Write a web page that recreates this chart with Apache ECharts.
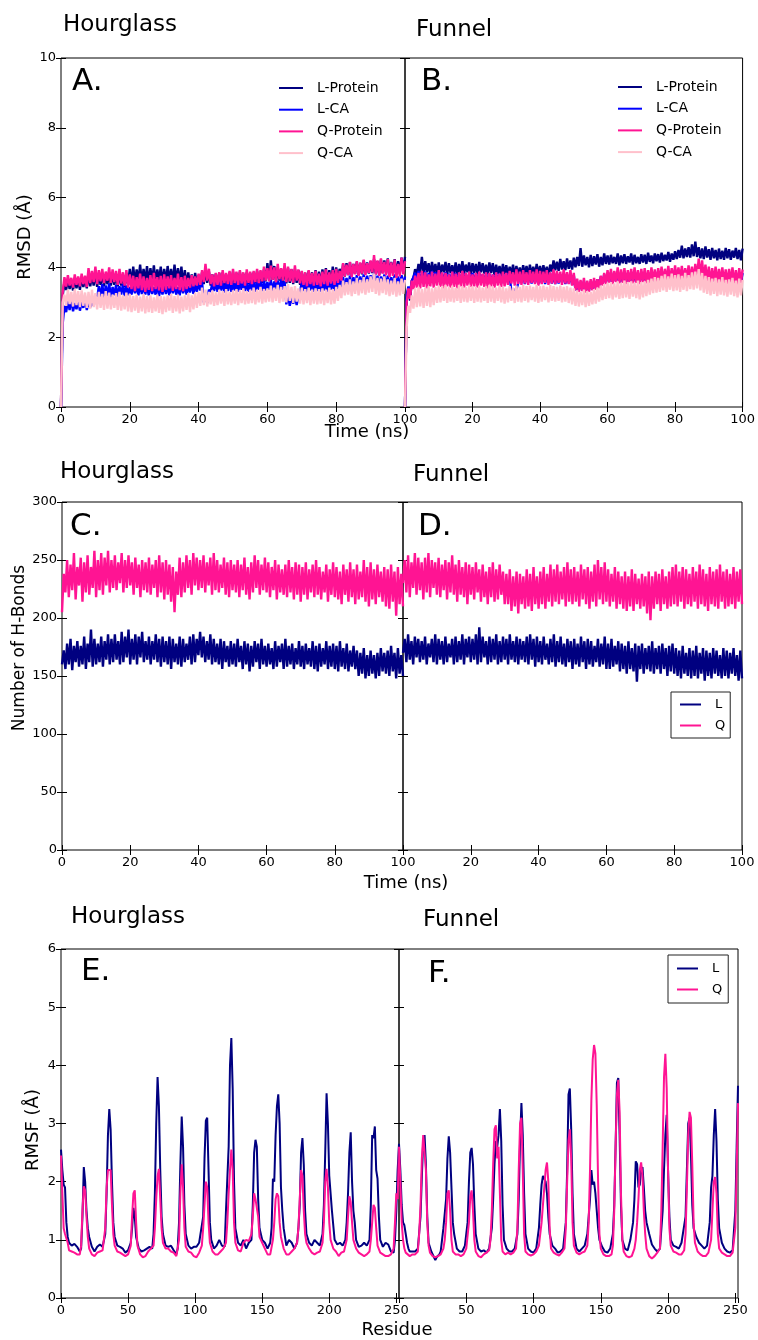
<!DOCTYPE html>
<html>
<head>
<meta charset="utf-8">
<script src="https://cdn.jsdelivr.net/npm/echarts@6/dist/echarts.min.js"></script>
<style>html,body{margin:0;padding:0;background:#fff}#c{width:758px;height:1340px}</style>
</head>
<body>
<div id="c"></div>
<script>
// ---------- time axis ticks ----------
const timeTicks = [0, 20, 40, 60, 80, 100];
const residueTicks = [0, 50, 100, 150, 200, 250];
const STEP = 0.5; // ns between samples

// ---------- Panel A (Hourglass RMSD, Å), samples every 0.5 ns ----------
const aLProtein = [0,
3.20,3.60,3.35,3.68,3.38,3.62,3.34,3.70,3.40,3.66,
3.36,3.72,3.44,3.70,3.40,3.82,3.46,3.78,3.48,3.86,
3.44,3.80,3.50,3.84,3.46,3.78,3.52,3.86,3.48,3.82,
3.50,3.80,3.46,3.86,3.48,3.78,3.44,3.84,3.50,3.96,
3.52,4.02,3.56,3.94,3.60,4.08,3.54,3.96,3.58,4.04,
3.55,3.98,3.60,4.06,3.56,3.94,3.62,4.02,3.54,3.96,
3.58,4.04,3.60,3.96,3.55,4.08,3.58,3.98,3.56,4.02,
3.50,3.92,3.46,3.86,3.48,3.80,3.44,3.84,3.48,3.78,
3.46,3.86,3.52,3.96,3.56,3.88,3.48,3.80,3.44,3.82,
3.46,3.84,3.44,3.86,3.50,3.80,3.48,3.86,3.46,3.88,
3.50,3.84,3.46,3.88,3.50,3.82,3.46,3.86,3.52,3.84,
3.48,3.86,3.54,3.90,3.52,3.88,3.56,3.94,3.60,4.12,
3.62,4.20,3.64,4.04,3.58,4.00,3.62,3.96,3.56,4.02,
3.54,3.98,3.56,3.94,3.52,3.96,3.56,3.92,3.50,3.88,
3.48,3.84,3.46,3.90,3.50,3.86,3.46,3.92,3.52,3.88,
3.50,3.94,3.54,3.98,3.52,3.92,3.56,4.02,3.58,4.00,
3.60,3.96,3.66,4.10,3.74,4.12,3.78,4.14,3.76,4.10,
3.82,4.16,3.78,4.12,3.80,4.20,3.84,4.14,3.82,4.18,
3.84,4.24,3.80,4.18,3.78,4.22,3.84,4.20,3.82,4.26,
3.80,4.16,3.84,4.24,3.78,4.18,3.86,4.28,3.90,4.30];
const aLCA = [0,
2.40,2.90,2.72,3.05,2.78,3.10,2.74,2.98,2.80,3.08,
2.76,3.02,2.84,3.12,2.78,3.06,2.86,3.14,2.90,3.20,
3.10,3.46,3.16,3.52,3.12,3.48,3.18,3.54,3.14,3.44,
3.20,3.50,3.16,3.46,3.22,3.52,3.18,3.48,3.20,3.44,
3.22,3.50,3.26,3.46,3.20,3.52,3.24,3.48,3.22,3.46,
3.20,3.48,3.24,3.44,3.22,3.50,3.18,3.46,3.22,3.48,
3.24,3.46,3.20,3.50,3.26,3.48,3.22,3.44,3.20,3.52,
3.26,3.48,3.22,3.46,3.28,3.54,3.24,3.50,3.30,3.56,
3.34,3.58,3.00,3.20,2.98,3.36,3.30,3.56,3.32,3.58,
3.30,3.60,3.34,3.56,3.28,3.58,3.32,3.62,3.30,3.56,
3.34,3.60,3.30,3.58,3.36,3.62,3.32,3.56,3.30,3.60,
3.34,3.62,3.30,3.58,3.36,3.60,3.32,3.62,3.34,3.58,
3.36,3.64,3.32,3.60,3.38,3.62,3.34,3.66,3.36,3.60,
2.94,3.22,2.90,3.16,2.96,3.20,2.92,3.18,3.30,3.58,
3.32,3.60,3.28,3.56,3.34,3.62,3.30,3.58,3.32,3.56,
3.30,3.60,3.34,3.62,3.30,3.58,3.36,3.60,3.32,3.62,
3.38,3.66,3.42,3.72,3.40,3.70,3.44,3.76,3.40,3.72,
3.46,3.78,3.42,3.74,3.48,3.80,3.44,3.76,3.46,3.78,
3.48,3.82,3.44,3.76,3.40,3.74,3.46,3.80,3.44,3.76,
3.42,3.72,3.46,3.80,3.40,3.74,3.44,3.78,3.46,3.74];
const aQProtein = [0,
3.30,3.72,3.45,3.78,3.48,3.70,3.42,3.80,3.50,3.74,
3.46,3.82,3.52,3.76,3.44,3.98,3.55,3.90,3.58,4.02,
3.52,3.92,3.60,3.96,3.55,3.88,3.62,4.00,3.56,3.94,
3.58,3.90,3.50,3.96,3.54,3.86,3.48,3.92,3.42,3.80,
3.38,3.76,3.32,3.72,3.40,3.82,3.35,3.74,3.30,3.70,
3.36,3.78,3.32,3.84,3.38,3.72,3.34,3.76,3.30,3.80,
3.36,3.74,3.40,3.78,3.33,3.70,3.38,3.82,3.35,3.72,
3.32,3.76,3.38,3.70,3.42,3.78,3.46,3.74,3.48,3.82,
3.50,3.92,3.58,4.10,3.62,3.96,3.52,3.80,3.46,3.84,
3.50,3.86,3.48,3.92,3.55,3.84,3.52,3.90,3.50,3.96,
3.55,3.88,3.50,3.92,3.54,3.86,3.48,3.94,3.56,3.88,
3.52,3.90,3.58,3.96,3.55,3.92,3.60,4.02,3.62,3.98,
3.60,4.05,3.64,4.00,3.58,4.10,3.66,3.98,3.62,4.12,
3.58,4.02,3.60,3.96,3.56,4.06,3.62,3.94,3.54,3.90,
3.50,3.86,3.46,3.92,3.52,3.84,3.48,3.90,3.50,3.82,
3.46,3.88,3.52,3.94,3.48,3.86,3.54,3.92,3.50,3.96,
3.56,3.90,3.62,4.12,3.74,4.08,3.78,4.16,3.72,4.10,
3.80,4.18,3.76,4.14,3.82,4.22,3.78,4.12,3.84,4.20,
3.86,4.35,3.80,4.20,3.76,4.26,3.82,4.16,3.78,4.24,
3.72,4.14,3.76,4.22,3.70,4.10,3.74,4.28,3.80,4.18];
const aQCA = [0,
3.00,3.22,2.90,3.36,2.95,3.30,2.88,3.38,2.92,3.32,
2.86,3.34,2.90,3.28,2.84,3.30,2.82,3.36,2.86,3.26,
2.80,3.30,2.84,3.24,2.78,3.32,2.82,3.28,2.80,3.22,
2.84,3.26,2.78,3.30,2.76,3.20,2.80,3.28,2.74,3.24,
2.72,3.18,2.76,3.22,2.70,3.16,2.74,3.24,2.68,3.18,
2.72,3.20,2.70,3.14,2.74,3.22,2.70,3.18,2.66,3.16,
2.72,3.20,2.76,3.24,2.70,3.18,2.74,3.22,2.68,3.16,
2.74,3.20,2.78,3.26,2.72,3.20,2.80,3.28,2.84,3.30,
2.90,3.42,2.92,3.36,2.88,3.30,2.94,3.34,2.90,3.28,
2.92,3.36,2.96,3.32,2.90,3.38,2.94,3.30,2.92,3.34,
2.96,3.38,2.92,3.34,2.98,3.40,2.94,3.32,2.96,3.36,
2.98,3.42,2.94,3.36,3.00,3.44,2.96,3.38,3.00,3.40,
3.02,3.48,3.00,3.42,3.04,3.50,2.98,3.44,3.02,3.46,
3.00,3.52,3.04,3.44,2.98,3.46,3.02,3.40,2.96,3.42,
2.94,3.38,2.98,3.42,2.92,3.36,2.96,3.40,2.94,3.38,
2.96,3.40,2.92,3.36,2.98,3.42,2.94,3.38,2.96,3.44,
3.04,3.50,3.12,3.62,3.20,3.58,3.22,3.66,3.18,3.60,
3.24,3.70,3.20,3.64,3.26,3.72,3.22,3.66,3.28,3.74,
3.30,3.82,3.24,3.70,3.20,3.68,3.26,3.74,3.22,3.66,
3.18,3.62,3.22,3.70,3.16,3.60,3.20,3.68,3.24,3.64];

// ---------- Panel B (Funnel RMSD, Å) ----------
const bLProtein = [0,
3.10,3.40,3.05,3.62,3.70,3.95,3.78,4.10,3.85,4.30,
3.82,4.18,3.86,4.12,3.80,4.16,3.84,4.10,3.78,4.14,
3.82,4.08,3.86,4.16,3.80,4.12,3.84,4.06,3.80,4.14,
3.78,4.10,3.84,4.18,3.82,4.08,3.86,4.14,3.80,4.12,
3.84,4.10,3.80,4.16,3.86,4.12,3.82,4.08,3.80,4.14,
3.84,4.12,3.78,4.08,3.82,4.04,3.76,4.10,3.80,4.06,
3.76,4.02,3.80,4.08,3.74,4.04,3.78,4.00,3.76,4.06,
3.80,4.04,3.74,4.08,3.78,4.02,3.76,4.10,3.80,4.04,
3.76,4.06,3.80,4.02,3.74,4.08,3.88,4.20,3.92,4.16,
3.90,4.24,3.94,4.18,3.92,4.26,3.96,4.20,3.94,4.28,
4.00,4.30,4.04,4.55,4.02,4.34,4.06,4.30,4.00,4.36,
4.04,4.32,4.08,4.38,4.02,4.30,4.06,4.40,4.10,4.34,
4.08,4.36,4.12,4.30,4.10,4.40,4.06,4.34,4.12,4.38,
4.10,4.32,4.14,4.40,4.08,4.36,4.12,4.30,4.10,4.38,
4.14,4.36,4.10,4.42,4.16,4.34,4.12,4.40,4.18,4.38,
4.14,4.42,4.18,4.36,4.20,4.44,4.16,4.40,4.22,4.46,
4.24,4.50,4.28,4.62,4.26,4.54,4.30,4.58,4.28,4.66,
4.32,4.74,4.30,4.58,4.26,4.54,4.24,4.60,4.28,4.52,
4.22,4.56,4.26,4.50,4.20,4.54,4.24,4.48,4.22,4.56,
4.26,4.52,4.22,4.48,4.28,4.56,4.24,4.50,4.20,4.54];
const bLCA = [0,
3.20,3.45,3.30,3.60,3.55,3.85,3.60,3.90,3.58,3.86,
3.62,3.88,3.56,3.84,3.60,3.90,3.58,3.86,3.62,3.88,
3.58,3.84,3.60,3.86,3.56,3.82,3.60,3.88,3.58,3.84,
3.56,3.82,3.60,3.86,3.58,3.84,3.56,3.80,3.60,3.84,
3.58,3.82,3.54,3.86,3.58,3.80,3.56,3.84,3.54,3.82,
3.56,3.80,3.54,3.84,3.58,3.82,3.54,3.80,3.56,3.84,
3.58,3.82,3.26,3.40,3.24,3.36,3.54,3.80,3.56,3.82,
3.52,3.80,3.56,3.84,3.54,3.78,3.56,3.82,3.52,3.80,
3.56,3.82,3.52,3.78,3.56,3.84,3.54,3.80,3.52,3.82,
3.54,3.80,3.56,3.84,3.52,3.78,3.54,3.82,3.50,3.78,
3.34,3.60,3.32,3.58,3.36,3.62,3.30,3.56,3.34,3.60,
3.36,3.62,3.40,3.66,3.46,3.74,3.52,3.80,3.56,3.84,
3.58,3.86,3.56,3.84,3.60,3.88,3.56,3.82,3.58,3.86,
3.56,3.84,3.60,3.88,3.58,3.86,3.56,3.82,3.58,3.88,
3.60,3.86,3.58,3.84,3.62,3.88,3.60,3.86,3.62,3.90,
3.64,3.90,3.60,3.88,3.64,3.92,3.62,3.90,3.64,3.94,
3.62,3.90,3.66,3.94,3.64,3.92,3.66,3.96,3.64,3.94,
3.68,3.98,3.70,4.02,3.66,3.96,3.62,3.90,3.60,3.88,
3.58,3.86,3.60,3.90,3.56,3.84,3.58,3.88,3.56,3.86,
3.54,3.84,3.58,3.88,3.56,3.82,3.54,3.86,3.56,3.84];
const bQProtein = [0,
3.00,3.40,3.10,3.62,3.38,3.76,3.42,3.84,3.40,3.90,
3.44,3.86,3.40,3.80,3.46,3.88,3.42,3.82,3.48,3.92,
3.44,3.86,3.40,3.84,3.46,3.80,3.42,3.88,3.44,3.82,
3.40,3.86,3.46,3.90,3.42,3.84,3.48,3.88,3.44,3.80,
3.46,3.84,3.42,3.88,3.48,3.82,3.44,3.86,3.40,3.84,
3.46,3.80,3.42,3.86,3.48,3.82,3.44,3.88,3.46,3.84,
3.50,3.90,3.54,3.86,3.48,3.94,3.52,3.88,3.50,3.92,
3.54,3.86,3.50,3.92,3.56,3.88,3.52,3.94,3.48,3.90,
3.52,3.88,3.56,3.92,3.50,3.86,3.54,3.94,3.52,3.90,
3.56,3.88,3.50,3.94,3.54,3.86,3.52,3.92,3.48,3.84,
3.34,3.68,3.30,3.64,3.32,3.70,3.28,3.62,3.30,3.66,
3.34,3.70,3.36,3.66,3.40,3.76,3.48,3.84,3.52,3.92,
3.56,3.96,3.52,3.90,3.58,4.00,3.54,3.94,3.56,3.98,
3.52,3.92,3.58,3.96,3.54,4.00,3.56,3.92,3.52,3.96,
3.58,3.98,3.54,3.92,3.56,4.00,3.60,3.94,3.56,3.98,
3.62,4.02,3.58,3.96,3.64,4.04,3.60,3.98,3.62,4.06,
3.60,4.00,3.64,4.04,3.62,3.98,3.66,4.06,3.62,4.02,
3.64,4.10,3.70,4.25,3.72,4.20,3.66,4.08,3.60,4.02,
3.56,3.98,3.60,4.02,3.54,3.96,3.58,4.00,3.56,3.94,
3.52,3.96,3.58,4.00,3.54,3.92,3.50,3.98,3.56,3.94];
const bQCA = [0,
2.30,2.90,2.70,3.20,2.82,3.40,2.86,3.44,2.88,3.38,
2.84,3.42,2.90,3.46,2.86,3.40,2.92,3.44,2.98,3.48,
3.00,3.46,3.04,3.50,2.98,3.44,3.02,3.48,3.00,3.42,
3.04,3.50,2.98,3.46,3.02,3.44,3.00,3.50,3.04,3.46,
2.98,3.44,3.02,3.48,3.00,3.42,3.04,3.46,2.98,3.50,
3.02,3.46,2.98,3.42,3.04,3.48,3.00,3.44,2.96,3.40,
3.00,3.46,3.04,3.42,2.98,3.48,3.02,3.44,3.00,3.50,
3.04,3.46,3.00,3.48,3.06,3.44,3.02,3.50,2.98,3.46,
3.02,3.48,3.06,3.44,3.00,3.50,3.04,3.46,3.02,3.44,
3.04,3.48,3.00,3.44,3.02,3.46,2.98,3.42,2.94,3.40,
2.90,3.34,2.88,3.30,2.92,3.36,2.86,3.32,2.90,3.30,
2.94,3.38,2.96,3.42,3.02,3.48,3.06,3.52,3.10,3.56,
3.12,3.58,3.08,3.54,3.14,3.60,3.10,3.56,3.12,3.62,
3.14,3.58,3.10,3.60,3.16,3.56,3.12,3.62,3.08,3.58,
3.14,3.60,3.18,3.64,3.22,3.68,3.26,3.72,3.28,3.70,
3.30,3.76,3.34,3.80,3.30,3.74,3.36,3.82,3.32,3.78,
3.34,3.80,3.30,3.76,3.36,3.84,3.32,3.78,3.38,3.86,
3.36,3.88,3.40,3.95,3.34,3.84,3.28,3.76,3.24,3.72,
3.20,3.68,3.24,3.70,3.18,3.66,3.22,3.72,3.20,3.64,
3.16,3.66,3.22,3.70,3.18,3.62,3.14,3.68,3.20,3.64];

// ---------- Panel C (Hourglass H-bonds) ----------
const cL = [160,
172,156,178,160,182,155,176,162,180,158,
176,160,184,156,178,162,190,158,182,160,
178,162,184,158,180,164,186,160,182,162,
186,164,180,160,188,162,184,166,190,160,
182,164,186,160,184,166,188,162,180,164,
184,160,180,164,186,162,182,158,184,162,
180,160,184,156,182,162,178,160,184,158,
182,162,178,164,184,160,186,162,182,168,
188,166,184,162,180,164,186,160,182,162,
178,160,182,156,180,162,176,158,180,160,
178,158,182,162,176,156,180,160,178,154,
176,158,180,162,178,156,182,160,176,158,
178,160,174,156,180,158,176,162,178,156,
182,158,176,160,178,156,174,160,180,158,
176,156,178,160,174,158,180,156,176,154,
178,158,174,160,180,156,176,158,178,156,
176,154,180,158,174,156,178,154,172,158,
176,156,172,150,170,152,174,148,168,150,
172,152,168,148,170,150,174,154,170,152,
172,150,176,154,170,148,174,152,168,150];
const cQ = [205,
238,222,250,218,246,224,256,216,244,228,
252,214,248,222,254,220,244,226,258,218,
250,224,256,220,252,228,258,222,250,226,
254,224,248,230,256,222,250,226,254,228,
248,220,252,226,246,218,250,224,248,222,
252,220,246,226,250,218,254,222,248,216,
250,220,246,214,244,205,240,220,252,218,
248,222,254,226,250,220,256,228,252,224,
250,226,254,222,248,228,252,220,256,224,
250,222,246,226,252,220,248,218,250,224,
246,222,250,218,246,224,252,220,244,216,
248,222,254,226,250,220,246,224,252,222,
248,218,244,224,250,216,246,222,242,220,
246,218,250,222,244,216,248,220,246,214,
244,220,248,216,242,222,246,218,250,220,
244,216,240,222,246,214,242,220,248,218,
244,216,240,212,246,220,242,214,248,218,
242,212,246,216,240,218,250,214,244,210,
248,216,242,212,246,218,240,214,244,210,
242,208,246,214,240,202,244,212,238,210];

// ---------- Panel D (Funnel H-bonds) ----------
const dL = [170,
182,162,186,164,180,160,184,166,182,162,
180,164,184,160,178,166,182,162,186,160,
182,164,180,160,184,162,178,166,182,160,
184,162,180,164,186,160,182,166,184,162,
182,164,186,160,192,162,184,166,180,160,
184,162,182,164,186,160,180,162,184,164,
182,160,186,164,180,162,184,160,182,164,
180,162,184,160,186,164,182,158,184,162,
180,160,184,164,178,160,182,162,186,158,
180,162,184,160,178,158,182,162,180,156,
182,160,178,158,184,162,180,156,182,160,
180,158,176,162,182,158,178,160,184,156,
178,156,182,158,176,160,180,154,178,156,
176,152,180,156,174,154,178,145,176,156,
178,152,174,156,176,154,180,152,174,156,
176,152,178,156,174,150,176,154,178,152,
174,150,172,148,176,152,170,150,174,148,
172,150,176,148,170,152,174,146,172,150,
170,148,174,152,172,150,168,148,174,150,
172,148,170,152,174,150,168,146,172,148];
const dQ = [230,
250,222,254,218,248,226,256,220,252,224,
248,216,252,222,256,218,250,226,248,220,
252,218,246,224,250,216,248,222,254,220,
246,214,250,220,244,218,248,212,246,220,
244,216,248,222,242,214,246,218,240,212,
244,218,248,214,242,216,246,220,240,212,
238,212,242,206,236,210,240,204,238,212,
236,208,242,210,238,206,244,212,236,208,
240,212,244,208,238,214,246,210,242,214,
246,212,240,216,244,210,248,214,242,212,
244,214,240,210,246,216,242,212,244,208,
240,214,246,210,250,216,244,212,248,214,
242,210,238,214,244,208,240,212,236,208,
240,206,236,210,242,206,238,212,234,208,
238,210,236,204,240,198,236,208,240,212,
238,206,242,212,236,208,240,210,244,212,
246,210,240,214,244,208,242,212,238,210,
244,214,240,208,246,212,242,210,238,206,
244,212,240,210,242,208,246,214,240,208,
242,210,238,212,244,208,240,214,242,212];

// ---------- Panel E (Hourglass RMSF, [residue, Å]) ----------
const eL = [[0,2.55],[1,2.2],[2,1.95],[3,1.9],[4,1.3],[5,1.05],[6,0.95],[8,0.9],[10,0.93],[12,0.88],[14,0.8],[15,0.85],[16,1.4],[17,2.25],[18,2.0],[19,1.5],[20,1.2],[21,1.05],[23,0.88],[25,0.8],[27,0.88],[29,0.92],[31,0.88],[33,1.1],[34,1.8],[35,2.8],[36,3.25],[37,2.9],[38,2.0],[39,1.3],[40,1.05],[42,0.9],[44,0.88],[45,0.9],[46,0.85],[48,0.78],[50,0.82],[52,0.95],[53,1.2],[54,1.55],[55,1.4],[56,1.05],[58,0.85],[60,0.8],[62,0.82],[64,0.85],[66,0.88],[68,0.85],[69,1.1],[70,1.8],[71,3.0],[72,3.8],[73,3.3],[74,2.2],[75,1.4],[76,1.1],[78,0.9],[80,0.88],[82,0.9],[84,0.82],[86,0.75],[87,0.85],[88,1.3],[89,2.3],[90,3.12],[91,2.6],[92,1.6],[93,1.1],[95,0.9],[97,0.85],[99,0.88],[101,0.88],[103,0.95],[104,1.1],[105,1.25],[106,1.4],[107,2.4],[108,3.05],[109,3.1],[110,2.2],[111,1.3],[112,1.0],[114,0.85],[116,0.9],[118,1.0],[120,0.9],[122,0.88],[123,1.5],[124,1.5],[125,2.6],[126,4.0],[127,4.47],[128,3.6],[129,2.0],[130,1.2],[132,0.95],[134,0.9],[136,1.0],[138,0.85],[140,0.95],[142,1.0],[143,1.6],[144,2.5],[145,2.72],[146,2.6],[147,1.7],[148,1.2],[150,1.0],[152,0.95],[154,0.85],[156,0.95],[157,1.2],[158,2.05],[159,2.0],[160,2.8],[161,3.3],[162,3.5],[163,3.0],[164,1.9],[165,1.5],[166,1.2],[168,0.9],[170,1.0],[172,0.95],[174,0.85],[176,0.95],[177,1.2],[178,1.6],[179,2.5],[180,2.75],[181,2.3],[182,1.5],[183,1.1],[185,0.95],[187,0.9],[189,1.0],[191,0.95],[193,0.9],[195,1.1],[196,1.6],[197,2.5],[198,3.52],[199,3.0],[200,2.1],[201,2.1],[202,1.5],[204,1.0],[206,0.92],[208,0.95],[210,0.9],[212,1.0],[213,1.3],[214,1.8],[215,2.5],[216,2.85],[217,2.0],[218,1.5],[219,1.3],[220,1.0],[222,0.88],[224,0.9],[226,0.95],[228,0.9],[230,1.0],[231,1.6],[232,2.8],[233,2.75],[234,2.95],[235,2.2],[236,2.05],[237,1.4],[238,1.0],[240,0.88],[242,0.95],[244,0.92],[246,0.8],[248,0.78],[249,1.0],[250,1.5],[251,2.2],[252,2.65]];
const eQ = [[0,2.45],[1,1.8],[2,1.2],[3,1.1],[4,1.12],[5,0.95],[6,0.82],[8,0.8],[10,0.78],[12,0.75],[14,0.75],[15,0.9],[16,1.5],[17,1.92],[18,1.85],[19,1.4],[20,1.05],[21,0.85],[23,0.75],[25,0.72],[27,0.78],[29,0.8],[31,0.82],[33,1.2],[34,1.9],[35,2.2],[36,2.22],[37,2.2],[38,1.6],[39,1.1],[40,0.9],[42,0.8],[44,0.78],[46,0.75],[48,0.72],[50,0.75],[52,0.9],[53,1.4],[54,1.8],[55,1.85],[56,1.3],[57,0.9],[59,0.75],[61,0.7],[63,0.72],[65,0.8],[67,0.85],[69,0.9],[70,1.2],[71,1.7],[72,2.1],[73,2.22],[74,1.7],[75,1.2],[76,0.95],[78,0.85],[80,0.85],[82,0.8],[84,0.78],[86,0.72],[87,0.75],[88,1.0],[89,1.8],[90,2.3],[91,1.9],[92,1.2],[93,0.88],[95,0.8],[97,0.78],[99,0.72],[101,0.7],[103,0.78],[105,0.9],[106,1.2],[107,1.6],[108,2.0],[109,1.9],[110,1.3],[111,0.95],[113,0.8],[115,0.75],[117,0.75],[119,0.8],[121,0.85],[123,0.95],[124,1.3],[125,1.8],[126,2.2],[127,2.55],[128,2.2],[129,1.3],[130,0.95],[132,0.82],[134,0.8],[136,0.95],[138,1.0],[140,0.98],[142,1.1],[143,1.4],[144,1.8],[145,1.7],[146,1.72],[147,1.4],[148,1.05],[150,0.95],[152,0.85],[154,0.75],[156,0.75],[158,1.0],[159,1.3],[160,1.7],[161,1.8],[162,1.75],[163,1.3],[164,1.05],[166,0.85],[168,0.75],[170,0.75],[172,0.8],[174,0.85],[176,0.95],[177,1.2],[178,1.7],[179,2.2],[180,2.1],[181,1.5],[182,1.1],[183,0.95],[185,0.85],[187,0.78],[189,0.75],[191,0.78],[193,0.8],[195,0.95],[196,1.3],[197,2.0],[198,2.22],[199,1.9],[200,1.3],[201,1.0],[203,0.85],[205,0.8],[207,0.72],[209,0.78],[211,0.8],[213,1.0],[214,1.4],[215,1.75],[216,1.65],[217,1.3],[218,1.0],[220,0.85],[222,0.78],[224,0.75],[226,0.72],[228,0.75],[230,0.8],[231,1.0],[232,1.3],[233,1.6],[234,1.55],[235,1.2],[236,0.9],[238,0.78],[240,0.75],[242,0.72],[244,0.72],[246,0.75],[248,0.85],[249,1.3],[250,1.8],[251,1.7],[252,2.6]];

// ---------- Panel F (Funnel RMSF, [residue, Å]) ----------
const fL = [[0,2.65],[1,2.2],[2,1.6],[3,1.3],[4,1.25],[5,1.1],[6,0.95],[7,0.85],[8,0.8],[10,0.8],[12,0.8],[14,0.85],[16,1.4],[17,2.1],[18,2.7],[19,2.8],[20,2.3],[21,1.4],[22,0.95],[24,0.8],[26,0.7],[27,0.65],[28,0.7],[30,0.75],[31,0.8],[33,1.2],[34,1.45],[35,1.7],[36,2.4],[37,2.78],[38,2.5],[39,1.9],[40,1.3],[41,1.1],[43,0.85],[45,0.8],[47,0.8],[49,0.9],[51,1.3],[52,2.0],[53,2.5],[54,2.58],[55,2.3],[56,1.6],[57,1.1],[59,0.85],[61,0.8],[63,0.82],[65,0.78],[67,0.85],[69,1.2],[70,1.7],[71,2.3],[72,2.7],[73,2.6],[74,2.8],[75,3.25],[76,2.7],[77,1.6],[78,1.0],[80,0.85],[82,0.8],[84,0.8],[86,0.85],[88,1.1],[89,1.7],[90,2.7],[91,3.35],[92,2.8],[93,1.8],[94,1.1],[96,0.85],[98,0.8],[100,0.78],[102,0.85],[104,1.2],[105,1.6],[106,1.95],[107,2.1],[108,2.05],[109,2.0],[110,1.8],[111,1.4],[112,1.1],[114,0.9],[116,0.85],[118,0.78],[120,0.8],[122,0.85],[124,1.3],[125,2.2],[126,3.5],[127,3.6],[128,2.9],[129,1.8],[130,1.1],[132,0.85],[134,0.8],[136,0.85],[138,0.9],[140,1.1],[141,1.4],[142,1.7],[143,2.2],[144,1.95],[145,2.0],[146,1.8],[147,1.5],[148,1.2],[149,1.0],[151,0.88],[153,0.8],[155,0.78],[157,0.85],[159,1.1],[160,1.6],[161,2.6],[162,3.7],[163,3.78],[164,2.8],[165,1.6],[166,1.0],[168,0.85],[170,0.82],[172,1.0],[174,1.3],[175,1.7],[176,2.35],[177,2.3],[178,1.9],[179,1.95],[180,2.2],[181,2.25],[182,1.9],[183,1.5],[184,1.3],[185,1.3],[186,1.1],[188,0.92],[190,0.85],[192,0.8],[194,0.85],[196,1.5],[197,2.2],[198,2.8],[199,3.15],[200,2.2],[201,1.4],[202,1.0],[204,0.9],[206,0.88],[208,0.85],[210,0.95],[212,1.25],[213,1.4],[214,2.2],[215,3.0],[216,3.1],[217,2.5],[218,1.6],[219,1.2],[221,1.05],[223,0.95],[225,0.9],[227,0.85],[229,0.9],[231,1.3],[232,1.9],[233,2.1],[234,2.8],[235,3.25],[236,2.7],[237,1.7],[238,1.2],[240,0.95],[242,0.85],[244,0.8],[246,0.78],[248,0.82],[250,1.5],[251,2.6],[252,3.65]];
const fQ = [[0,2.6],[1,2.0],[2,1.3],[3,1.0],[4,0.85],[5,0.78],[6,0.75],[8,0.72],[10,0.75],[12,0.75],[14,0.8],[15,1.1],[16,1.6],[17,2.4],[18,2.8],[19,2.83],[20,2.2],[21,1.3],[22,0.9],[23,0.78],[25,0.72],[27,0.7],[29,0.72],[31,0.75],[33,0.85],[34,1.0],[35,1.3],[36,1.8],[37,1.85],[38,1.5],[39,1.0],[40,0.8],[42,0.75],[44,0.75],[46,0.72],[48,0.75],[50,0.85],[52,1.3],[53,1.75],[54,1.85],[55,1.5],[56,1.0],[57,0.8],[59,0.72],[61,0.7],[63,0.75],[65,0.78],[67,0.82],[68,1.0],[69,1.5],[70,2.3],[71,2.9],[72,2.97],[73,2.4],[74,2.6],[75,1.8],[76,1.0],[77,0.8],[79,0.75],[81,0.78],[83,0.75],[85,0.78],[87,0.85],[88,1.2],[89,2.2],[90,3.0],[91,3.1],[92,2.2],[93,1.1],[94,0.8],[96,0.75],[98,0.73],[100,0.75],[102,0.8],[104,0.9],[106,1.3],[107,1.6],[108,1.9],[109,2.2],[110,2.33],[111,2.0],[112,1.2],[113,0.85],[115,0.78],[117,0.75],[119,0.73],[121,0.78],[123,0.85],[124,1.2],[125,2.0],[126,2.7],[127,2.9],[128,2.4],[129,1.3],[130,0.9],[132,0.78],[134,0.75],[136,0.78],[138,0.8],[140,0.9],[141,1.3],[142,2.2],[143,3.4],[144,4.1],[145,4.35],[146,4.2],[147,3.3],[148,2.0],[149,1.1],[150,0.85],[152,0.75],[154,0.72],[156,0.72],[158,0.75],[159,0.9],[160,1.5],[161,2.6],[162,3.5],[163,3.75],[164,3.2],[165,1.8],[166,1.0],[167,0.8],[169,0.72],[171,0.7],[173,0.72],[175,0.85],[176,1.0],[177,1.3],[178,1.7],[179,2.2],[180,2.33],[181,2.1],[182,1.5],[183,1.1],[184,0.85],[186,0.72],[188,0.68],[190,0.72],[192,0.78],[194,0.85],[195,1.5],[196,2.6],[197,3.8],[198,4.2],[199,3.6],[200,2.2],[201,1.2],[202,0.9],[204,0.8],[206,0.78],[208,0.75],[210,0.75],[212,0.82],[213,1.1],[214,1.9],[215,2.8],[216,3.2],[217,3.1],[218,2.3],[219,1.3],[220,0.95],[222,0.8],[224,0.75],[226,0.72],[228,0.72],[230,0.78],[232,1.0],[233,1.5],[234,2.0],[235,2.08],[236,1.8],[237,1.1],[238,0.85],[240,0.78],[242,0.75],[244,0.72],[246,0.72],[248,0.78],[250,1.2],[251,2.2],[252,3.35]];

// ---------- colours ----------
const NAVY = '#000080', BLUE = '#0000ff', PINK = '#ff1493', LPINK = '#ffc0cb';
const FONT = '"DejaVu Sans", sans-serif';

const grids = [
  {left: 61, top: 58, width: 344, height: 349},   // A
  {left: 405, top: 58, width: 338, height: 349},  // B
  {left: 62, top: 502, width: 341, height: 348},  // C
  {left: 403, top: 502, width: 339, height: 348}, // D
  {left: 61, top: 949, width: 338, height: 349},  // E
  {left: 399, top: 949, width: 339, height: 349}  // F
].map(g => Object.assign({show: true, borderColor: '#000', borderWidth: 1, backgroundColor: 'transparent'}, g));

const axisSpec = [
  {x: [0, 100, 20], y: [0, 10, 2], yLab: true, hideMinX: false},
  {x: [0, 100, 20], y: [0, 10, 2], yLab: false, hideMinX: true},
  {x: [0, 100, 20], y: [0, 300, 50], yLab: true, hideMinX: false},
  {x: [0, 100, 20], y: [0, 300, 50], yLab: false, hideMinX: true},
  {x: [0, 252, 50], y: [0, 6, 1], yLab: true, hideMinX: false},
  {x: [0, 252, 50], y: [0, 6, 1], yLab: false, hideMinX: true}
];

const tick = {show: true, inside: true, length: 5, lineStyle: {color: '#000', width: 1}};
const xAxes = [], yAxes = [];
axisSpec.forEach((s, g) => {
  const base = {type: 'value', gridIndex: g, min: s.x[0], max: s.x[1], interval: s.x[2],
    axisLine: {show: false}, splitLine: {show: false}, axisTick: tick};
  xAxes.push(Object.assign({}, base, {position: 'bottom',
    axisLabel: {show: true, color: '#000', fontSize: 13, fontFamily: FONT, margin: 6,
      showMinLabel: !s.hideMinX, showMaxLabel: s.x[1] === 100,
      formatter: v => String(v)}}));
  xAxes.push(Object.assign({}, base, {position: 'top', axisLabel: {show: false}}));
  const ybase = {type: 'value', gridIndex: g, min: s.y[0], max: s.y[1], interval: s.y[2],
    axisLine: {show: false}, splitLine: {show: false}, axisTick: tick};
  yAxes.push(Object.assign({}, ybase, {position: 'left',
    axisLabel: {show: s.yLab, color: '#000', fontSize: 13, fontFamily: FONT, margin: 5}}));
  yAxes.push(Object.assign({}, ybase, {position: 'right', axisLabel: {show: false}}));
});

function timePairs(arr) { return arr.map((v, i) => [i * STEP, v]); }
function mk(name, data, color, g, width) {
  return {type: 'line', name: name, data: data, xAxisIndex: 2 * g, yAxisIndex: 2 * g,
    showSymbol: false, symbol: 'none', color: color, animation: false, sampling: null,
    lineStyle: {color: color, width: width, join: 'bevel'}, z: 2};
}

const NW = 2.4; // noisy trace width (dense trajectories look like filled bands)
const series = [
  mk('L-Protein', timePairs(aLProtein), NAVY, 0, NW),
  mk('L-CA', timePairs(aLCA), BLUE, 0, NW),
  mk('Q-Protein', timePairs(aQProtein), PINK, 0, NW),
  mk('Q-CA', timePairs(aQCA), LPINK, 0, NW),
  mk('L-Protein', timePairs(bLProtein), NAVY, 1, NW),
  mk('L-CA', timePairs(bLCA), BLUE, 1, NW),
  mk('Q-Protein', timePairs(bQProtein), PINK, 1, NW),
  mk('Q-CA', timePairs(bQCA), LPINK, 1, NW),
  mk('L', timePairs(cL), NAVY, 2, NW),
  mk('Q', timePairs(cQ), PINK, 2, NW),
  mk('L', timePairs(dL), NAVY, 3, NW),
  mk('Q', timePairs(dQ), PINK, 3, NW),
  mk('L', eL, NAVY, 4, 2),
  mk('Q', eQ, PINK, 4, 2),
  mk('L', fL, NAVY, 5, 2),
  mk('Q', fQ, PINK, 5, 2)
];

const legA = {names: ['L-Protein', 'L-CA', 'Q-Protein', 'Q-CA']};
const legendBase = {orient: 'vertical', selectedMode: false, itemWidth: 24, itemHeight: 14,
  itemGap: 7.7, padding: 0, icon: 'path://M0,6 L24,6 L24,8 L0,8 Z',
  textStyle: {fontSize: 14, fontFamily: FONT, color: '#000', padding: [0, 0, 0, 9]}};
const boxLegend = {orient: 'vertical', selectedMode: false, itemWidth: 21, itemHeight: 12,
  itemGap: 8, borderColor: '#222', borderWidth: 1, backgroundColor: '#fff',
  icon: 'path://M0,5 L21,5 L21,7 L0,7 Z',
  textStyle: {fontSize: 13, fontFamily: FONT, color: '#000', padding: [0, 0, 0, 9]}};
const legends = [
  Object.assign({}, legendBase, {data: legA.names, left: 279, top: 81}),
  Object.assign({}, legendBase, {data: legA.names, left: 618, top: 80}),
  Object.assign({}, boxLegend, {data: ['L', 'Q'], left: 671, top: 692, padding: [6, 5, 6, 9]}),
  Object.assign({}, boxLegend, {data: ['L', 'Q'], left: 668, top: 955, padding: [7, 6, 7, 9]})
];

function txt(t, x, y, size, opts) {
  return Object.assign({type: 'text', x: x, y: y, silent: true, z: 100,
    style: {text: t, fill: '#000', font: size + 'px ' + FONT,
      textAlign: (opts && opts.align) || 'left', textVerticalAlign: 'middle'}},
    opts && opts.rot ? {rotation: Math.PI / 2} : {});
}
const graphics = [
  txt('Hourglass', 63, 25, 23), txt('Funnel', 416, 30, 23),
  txt('Hourglass', 60, 472, 23), txt('Funnel', 413, 475, 23),
  txt('Hourglass', 71, 917, 23), txt('Funnel', 423, 920, 23),
  txt('A.', 72, 82, 31), txt('B.', 421, 82, 31),
  txt('C.', 70, 527, 31), txt('D.', 418, 527, 31),
  txt('E.', 81, 972, 31), txt('F.', 428, 974, 31),
  txt('RMSD (Å)', 25, 237, 18, {align: 'center', rot: true}),
  txt('Number of H-Bonds', 20, 648, 17, {align: 'center', rot: true}),
  txt('RMSF (Å)', 33, 1130, 18, {align: 'center', rot: true}),
  txt('Time (ns)', 367, 432, 18, {align: 'center'}),
  txt('Time (ns)', 406, 883, 18, {align: 'center'}),
  txt('Residue', 397, 1330, 18, {align: 'center'})
];

const chart = echarts.init(document.getElementById('c'), null, {renderer: 'canvas'});
chart.setOption({
  animation: false,
  backgroundColor: '#fff',
  grid: grids,
  xAxis: xAxes,
  yAxis: yAxes,
  legend: legends,
  series: series,
  graphic: graphics
});
</script>
</body>
</html>
